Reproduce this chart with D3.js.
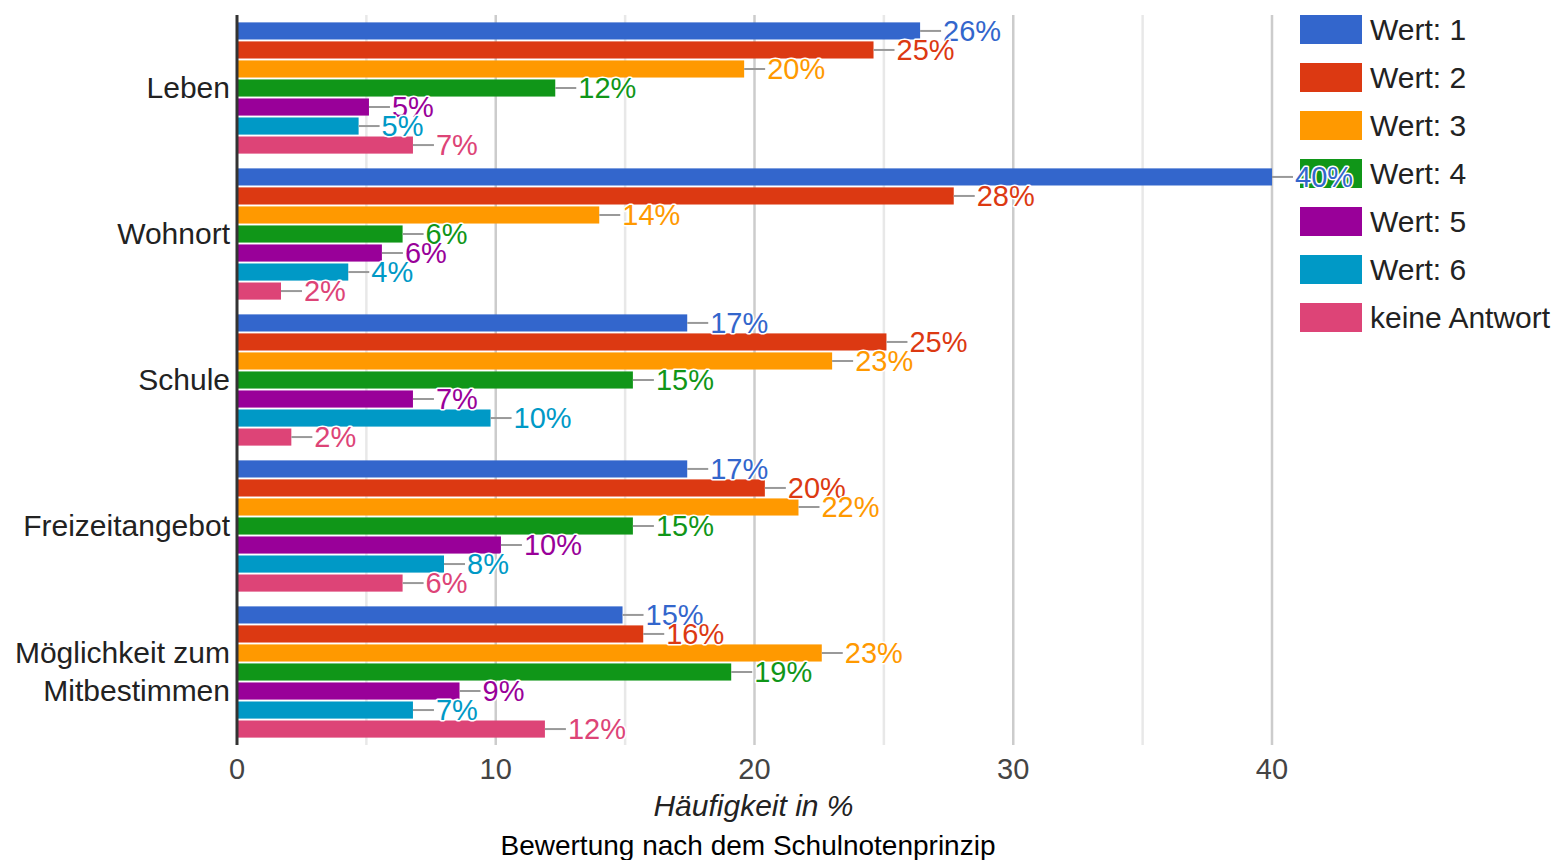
<!DOCTYPE html>
<html>
<head>
<meta charset="utf-8">
<script src="https://cdn.jsdelivr.net/npm/d3@7"></script>
<style>
  body { margin: 0; background: #fff; }
  svg { display: block; font-family: Arial, "Liberation Sans", sans-serif; }
</style>
</head>
<body>
<svg id="chart"></svg>
<script>
const categories = ['Leben', 'Wohnort', 'Schule', 'Freizeitangebot', 'Möglichkeit zum Mitbestimmen'];
const seriesNames = ['Wert: 1', 'Wert: 2', 'Wert: 3', 'Wert: 4', 'Wert: 5', 'Wert: 6', 'keine Antwort'];
const wert1 = [26.4, 40.0, 17.4, 17.4, 14.9];
const wert2 = [24.6, 27.7, 25.1, 20.4, 15.7];
const wert3 = [19.6, 14.0, 23.0, 21.7, 22.6];
const wert4 = [12.3, 6.4, 15.3, 15.3, 19.1];
const wert5 = [5.1, 5.6, 6.8, 10.2, 8.6];
const wert6 = [4.7, 4.3, 9.8, 8.0, 6.8];
const keineAntwort = [6.8, 1.7, 2.1, 6.4, 11.9];
const xTicks = [0, 10, 20, 30, 40];
const colors = ['#3366cc', '#dc3912', '#ff9900', '#109618', '#990099', '#0099c6', '#dd4477'];

const seriesValues = [wert1, wert2, wert3, wert4, wert5, wert6, keineAntwort];

const width = 1559, height = 860;
const margin = { top: 15, left: 237, bottom: 115 };
const plotRight = 1272;

const svg = d3.select('#chart').attr('width', width).attr('height', height);

const x = d3.scaleLinear().domain([0, 40]).range([margin.left, plotRight]);
const y0 = d3.scaleBand().domain(categories).range([margin.top, height - margin.bottom]).paddingInner(0.075).paddingOuter(0.0375);
const y1 = d3.scaleBand().domain(seriesNames).range([0, y0.bandwidth()]).padding(0.1);

const cells = (c, ci) => seriesNames.map((s, si) => ({ s, si, v: seriesValues[si][ci] }));

// gridlines
svg.append('g').selectAll('line')
  .data(d3.range(5, 41, 5))
  .enter().append('line')
  .attr('x1', d => x(d)).attr('x2', d => x(d))
  .attr('y1', margin.top).attr('y2', height - margin.bottom)
  .attr('stroke', d => d % 10 === 0 ? '#cccccc' : '#e8e8e8')
  .attr('stroke-width', 2.5);

// bars
svg.append('g').selectAll('g')
  .data(categories)
  .enter().append('g')
  .attr('transform', d => `translate(0,${y0(d)})`)
  .selectAll('rect')
  .data(cells)
  .enter().append('rect')
  .attr('x', x(0))
  .attr('y', d => y1(d.s))
  .attr('width', d => x(d.v) - x(0))
  .attr('height', y1.bandwidth())
  .attr('fill', d => colors[d.si]);

// baseline
svg.append('line')
  .attr('x1', x(0)).attr('x2', x(0))
  .attr('y1', margin.top).attr('y2', height - margin.bottom)
  .attr('stroke', '#333').attr('stroke-width', 3);

// x tick labels
svg.append('g').selectAll('text')
  .data(xTicks)
  .enter().append('text')
  .attr('x', d => x(d))
  .attr('y', 779)
  .attr('text-anchor', 'middle')
  .style('font-size', '29px')
  .style('fill', '#444')
  .text(d => d);

// axis title
svg.append('text')
  .attr('x', (x(0) + plotRight) / 2 - 1)
  .attr('y', 816)
  .attr('text-anchor', 'middle')
  .style('font-size', '30px')
  .style('font-style', 'italic')
  .style('fill', '#222')
  .text('Häufigkeit in %');

// chart caption
svg.append('text')
  .attr('x', 748)
  .attr('y', 855)
  .attr('text-anchor', 'middle')
  .style('font-size', '28px')
  .style('fill', '#000')
  .text('Bewertung nach dem Schulnotenprinzip');

// category labels
svg.append('g').selectAll('text')
  .data(categories)
  .enter().append('text')
  .attr('text-anchor', 'end')
  .style('font-size', '30px')
  .style('fill', '#222')
  .each(function(d) {
    const cy = y0(d) + y0.bandwidth() / 2;
    const t = d3.select(this);
    if (d === 'Möglichkeit zum Mitbestimmen') {
      t.append('tspan').attr('x', 230).attr('y', cy - 19 + 10).text('Möglichkeit zum');
      t.append('tspan').attr('x', 230).attr('y', cy + 19 + 10).text('Mitbestimmen');
    } else {
      t.attr('x', 230).attr('y', cy + 10).text(d);
    }
  });

// legend
const legendItems = svg.append('g').attr('transform', 'translate(1300,15)')
  .selectAll('g')
  .data(seriesNames)
  .enter().append('g')
  .attr('transform', (d, i) => `translate(0,${i * 48})`);

legendItems.append('rect')
  .attr('width', 62).attr('height', 29)
  .attr('fill', (d, i) => colors[i]);

legendItems.append('text')
  .attr('x', 70).attr('y', 25)
  .style('font-size', '30px')
  .style('fill', '#222')
  .text(d => d);

// value annotations (drawn on top of everything)
const ann = svg.append('g').selectAll('g')
  .data(categories)
  .enter().append('g')
  .attr('transform', d => `translate(0,${y0(d)})`)
  .selectAll('g')
  .data(cells)
  .enter().append('g');

ann.append('line')
  .attr('x1', d => x(d.v))
  .attr('x2', d => x(d.v) + 21)
  .attr('y1', d => y1(d.s) + y1.bandwidth() / 2)
  .attr('y2', d => y1(d.s) + y1.bandwidth() / 2)
  .attr('stroke', '#999')
  .attr('stroke-width', 2);

ann.append('text')
  .attr('x', d => x(d.v) + 23)
  .attr('y', d => y1(d.s) + y1.bandwidth() / 2 + 10)
  .style('font-size', '29px')
  .style('fill', d => colors[d.si])
  .style('stroke', '#fff')
  .style('stroke-width', 3)
  .style('paint-order', 'stroke')
  .style('stroke-linejoin', 'round')
  .text(d => Math.round(d.v) + '%');
</script>
</body>
</html>
